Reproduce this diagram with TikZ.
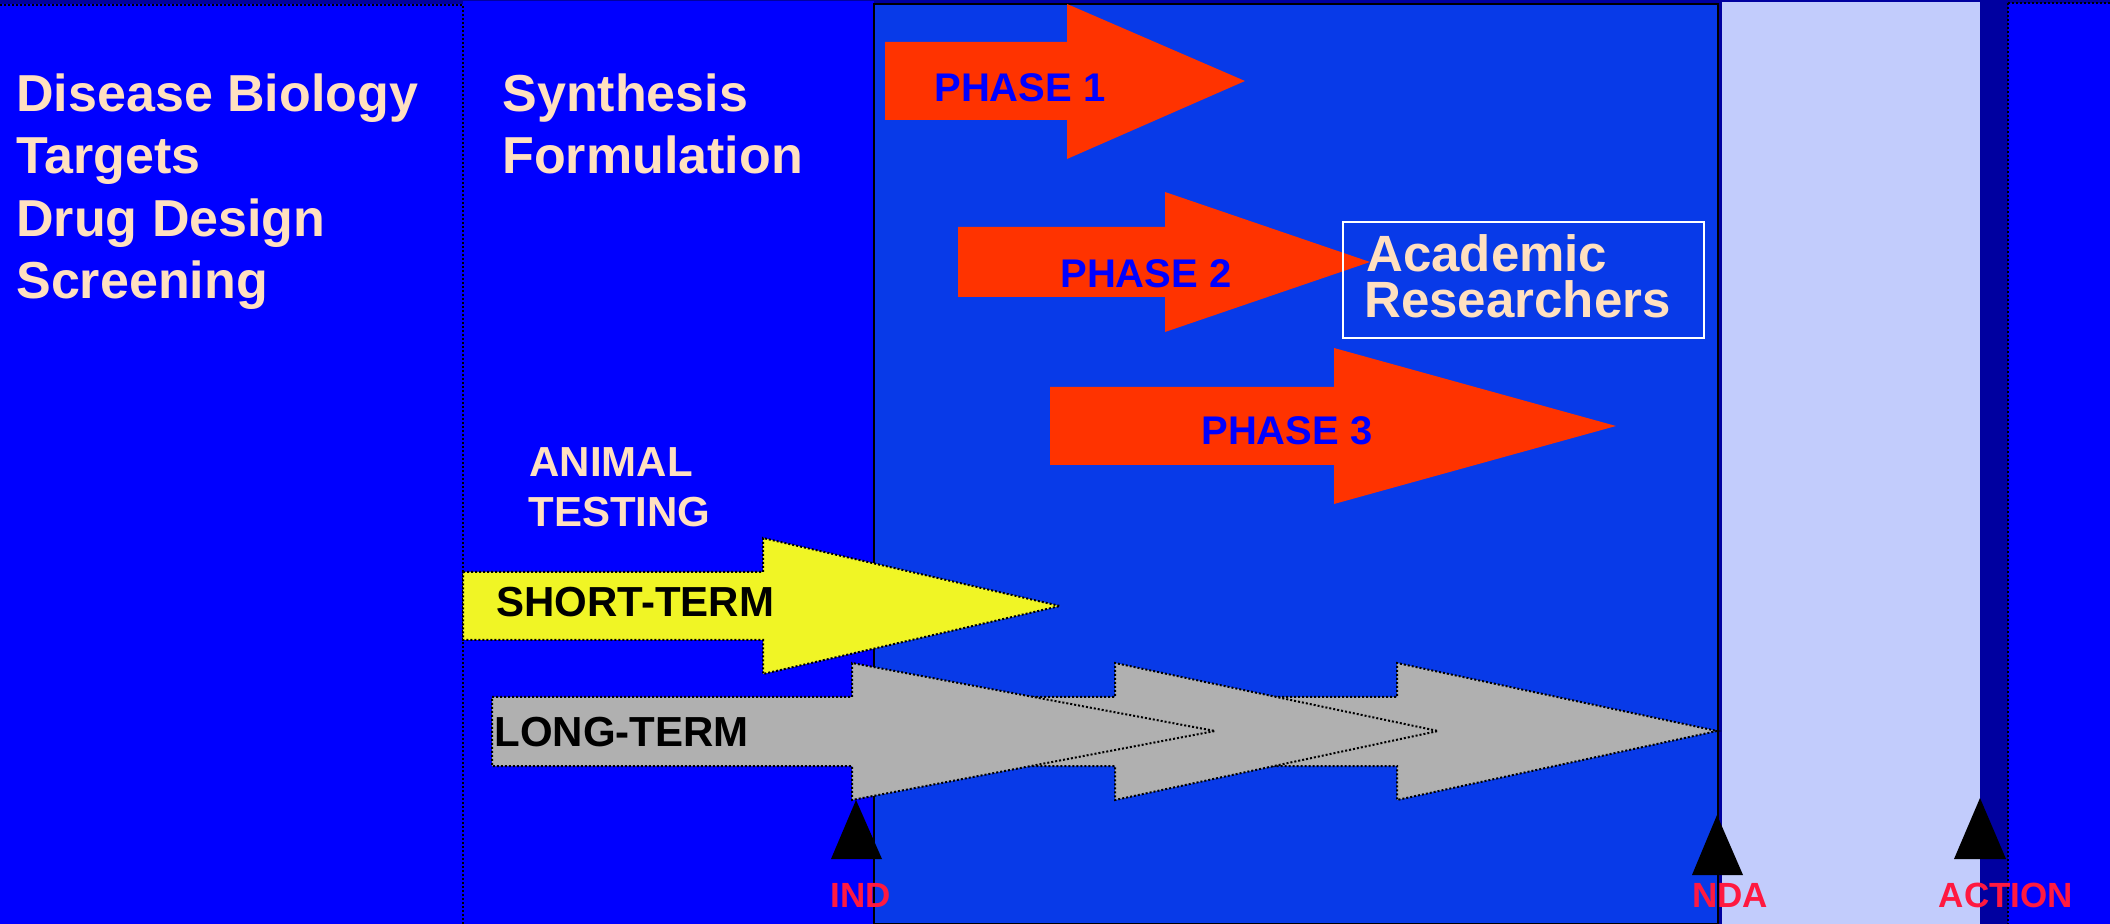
\documentclass[tikz,border=0pt]{standalone}
\usepackage{fontspec}
\setmainfont{Liberation Sans}
\usepackage{xcolor}

\definecolor{navyback}{RGB}{0,0,160}
\definecolor{brightblue}{RGB}{0,0,255}
\definecolor{midblue}{RGB}{8,58,232}
\definecolor{lavender}{RGB}{194,204,252}
\definecolor{peach}{RGB}{255,224,192}
\definecolor{phasered}{RGB}{255,51,0}
\definecolor{termyellow}{RGB}{240,245,37}
\definecolor{termgray}{RGB}{176,176,176}
\definecolor{milered}{RGB}{255,25,64}

\tikzset{
  dotline/.style={draw=black, line width=1pt, dash pattern=on 1pt off 1pt},
  stagetext/.style={anchor=base west, inner sep=0pt, text=peach, font=\fontsize{26}{31}\selectfont\bfseries},
  phasetext/.style={anchor=base, inner sep=0pt, text=brightblue, font=\fontsize{20}{24}\selectfont\bfseries},
  testtext/.style={anchor=base west, inner sep=0pt, text=peach, font=\fontsize{21}{25}\selectfont\bfseries},
  termtext/.style={anchor=base west, inner sep=0pt, text=black, font=\fontsize{21}{25}\selectfont\bfseries},
  miletext/.style={anchor=base, inner sep=0pt, text=milered, font=\fontsize{17.5}{21}\selectfont\bfseries},
  phasearrow/.style={fill=phasered},
  termarrow/.style={dotline},
}

\begin{document}
\begin{tikzpicture}[x=0.5pt, y=-0.5pt]
    \useasboundingbox (0,0) rectangle (2110,924);

    % Background panels
    \fill[navyback] (0,0) rectangle (2110,924);
    \fill[brightblue] (0,4) rectangle (463,924);
    \fill[brightblue] (463,1) rectangle (874,924);
    \draw[dotline] (0,5) -- (463,5) -- (463,924);
    \filldraw[fill=midblue, draw=black, line width=1pt] (874,4) rectangle (1718,924);
    \fill[lavender] (1722,2) rectangle (1980,924);
    \filldraw[fill=brightblue, dotline] (2008,3) rectangle (2111,925);

    % Discovery stages
    \node[stagetext] (disease) at (16,112) {Disease Biology};
    \node[stagetext] (targets) at (16,174) {Targets};
    \node[stagetext] (design) at (16,237) {Drug Design};
    \node[stagetext] (screening) at (16,299) {Screening};

    \node[stagetext] (synthesis) at (502,112) {Synthesis};
    \node[stagetext] (formulation) at (502,174) {Formulation};

    % Clinical phases
    \fill[phasearrow] (885,42) -- (1067,42) -- (1067,4) -- (1245,81) -- (1067,159) -- (1067,120) -- (885,120) -- cycle;
    \node[phasetext] (phaseone) at (1020,102) {PHASE 1};

    \fill[phasearrow] (958,227) -- (1165,227) -- (1165,192) -- (1370,262) -- (1165,332) -- (1165,297) -- (958,297) -- cycle;
    \node[phasetext] (phasetwo) at (1146,288) {PHASE 2};

    \fill[phasearrow] (1050,387) -- (1334,387) -- (1334,348) -- (1616,426) -- (1334,504) -- (1334,465) -- (1050,465) -- cycle;
    \node[phasetext] (phasethree) at (1287,445) {PHASE 3};

    % Academic box
    \draw[white, line width=1.3pt] (1343,222) rectangle (1704,338);
    \node[stagetext, font=\fontsize{25.5}{24}\selectfont\bfseries] (academic) at (1366,272) {Academic};
    \node[stagetext, font=\fontsize{25.5}{24}\selectfont\bfseries] (researchers) at (1364,318) {Researchers};

    % Animal testing
    \node[testtext] (animal) at (529,477) {ANIMAL};
    \node[testtext] (testing) at (528,527) {TESTING};

    \filldraw[termarrow, fill=termyellow] (463,572) -- (763,572) -- (763,538) -- (1060,606) -- (763,674) -- (763,640) -- (463,640) -- cycle;
    \node[termtext] (shortterm) at (496,617) {SHORT-TERM};

    \filldraw[termarrow, fill=termgray] (1250,697) -- (1397,697) -- (1397,663) -- (1717,731) -- (1397,800) -- (1397,766) -- (1250,766) -- cycle;
    \filldraw[termarrow, fill=termgray] (1000,697) -- (1115,697) -- (1115,663) -- (1438,731) -- (1115,800) -- (1115,766) -- (1000,766) -- cycle;
    \filldraw[termarrow, fill=termgray] (492,697) -- (852,697) -- (852,663) -- (1215,731) -- (852,800) -- (852,766) -- (492,766) -- cycle;
    \node[termtext] (longterm) at (494,747) {LONG-TERM};

    % Milestones
    \fill[black] (856,800) -- (882,859) -- (831,859) -- cycle;
    \node[miletext] (ind) at (861,907) {IND};
    \fill[black] (1717,815) -- (1743,875) -- (1692,875) -- cycle;
    \node[miletext] (nda) at (1730,907) {NDA};
    \fill[black] (1980,798) -- (2006,859) -- (1954,859) -- cycle;
    \node[miletext] (action) at (2006,907) {ACTION};
\end{tikzpicture}
\end{document}
